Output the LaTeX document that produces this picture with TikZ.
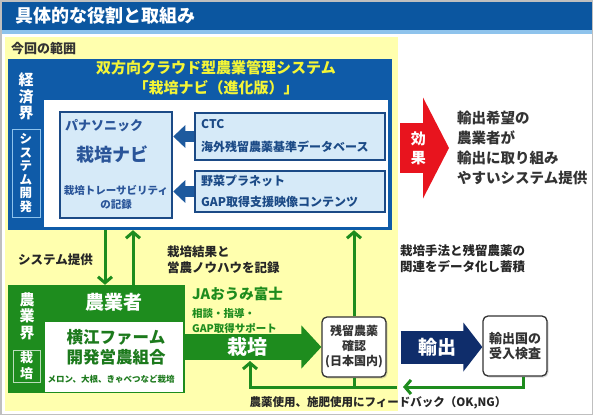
\documentclass[tikz,border=0pt]{standalone}
\usepackage{fontspec}
\setmainfont{Noto Sans CJK JP}
\usetikzlibrary{arrows.meta,positioning,shadows}
\definecolor{naTitle}{HTML}{0B56A0}
\definecolor{naStripe}{HTML}{8EC3EC}
\definecolor{naYellow}{HTML}{FFFFAE}
\definecolor{naBlue}{HTML}{0F5BA8}
\definecolor{naSysYellow}{HTML}{F4F536}
\definecolor{naPale}{HTML}{D6EAF8}
\definecolor{naNavy}{HTML}{1B4A86}
\definecolor{naArrowBlue}{HTML}{1E5A9E}
\definecolor{naCoreText}{HTML}{2A5599}
\definecolor{naGreen}{HTML}{1E8C1E}
\definecolor{naDarkGreen}{HTML}{1D7A1D}
\definecolor{naExportBlue}{HTML}{0F2D6B}
\definecolor{naRed}{HTML}{E8141E}
\definecolor{naText}{HTML}{333333}
\tikzset{
    naSide/.style={text=white, align=center, inner sep=0pt, font=\fontsize{15}{16.5}\selectfont\bfseries},
    naCore/.style={draw=naNavy, line width=2.5pt, fill=naPale, inner sep=0pt},
    naCoreText/.style={text=naCoreText, align=center, font=\fontsize{13}{15}\selectfont\bfseries},
    naPartText/.style={anchor=west, text=naNavy, inner sep=0pt, font=\fontsize{12}{14}\selectfont\bfseries},
    naCheck/.style={draw=naText, line width=1.3pt, fill=white, rounded corners=5pt, inner sep=0pt,
        align=center, text=naText, font=\fontsize{12}{15}\selectfont\bfseries,
        drop shadow={shadow xshift=1.5pt, shadow yshift=-1.5pt, opacity=0.3}},
    naLabel/.style={text=black!85, align=left, inner sep=0pt, font=\fontsize{12.5}{16}\selectfont\bfseries},
    naFeedArrow/.style={-{Triangle[width=22pt,length=12pt]}, line width=11pt, draw=naArrowBlue},
    naLink/.style={-{Straight Barb[length=6pt,width=14pt]}, line width=3pt, draw=naGreen},
    naFbLine/.style={line width=3pt, draw=naGreen},
    naCultArrow/.style={-{Triangle[width=42pt,length=20pt]}, line width=26pt, draw=naGreen},
    naExportArrow/.style={-{Triangle[width=48pt,length=19pt]}, line width=33pt, draw=naExportBlue},
    naEffectArrow/.style={-{Triangle[width=100pt,length=26pt]}, line width=50pt, draw=naRed}
}

\begin{document}
\begin{tikzpicture}[x=1pt,y=-1pt,font=\bfseries]
    \useasboundingbox (0,0) rectangle (593,415);
    % Title bar
    \fill[naTitle] (0,0) rectangle (593,30);
    \fill[naStripe] (0,30) rectangle (593,34);
    \node[anchor=west, text=white, font=\fontsize{18}{20}\selectfont\bfseries] (title) at (12,16) {具体的な役割と取組み};

    % Scope of this project
    \fill[naYellow] (5,37) rectangle (398,411);
    \node[anchor=west, inner sep=0pt, text=naText, font=\fontsize{13}{15}\selectfont\bfseries] (scope) at (11,49) {今回の範囲};

    % Economic sector: system development
    \node[fill=naBlue, minimum width=384, minimum height=171, inner sep=0pt] (econ) at (200,144.5) {};
    \node[fill=white, minimum width=344, minimum height=127, inner sep=0pt] (econIn) at (216,163.5) {};
    \node[text=naSysYellow, align=center, font=\fontsize{15}{20}\selectfont\bfseries] (sysTitle) at (216,78) {双方向クラウド型農業管理システム\\「栽培ナビ（進化版）」};
    \node[naSide] (econLbl) at (26,96.5) {経\\済\\界};
    \node[naSide, draw=naStripe, line width=1pt, minimum width=28, minimum height=88, font=\fontsize{12.5}{13.6}\selectfont\bfseries] (sysDev) at (26,173) {シ\\ス\\テ\\ム\\開\\発};

    \node[naCore, minimum width=112, minimum height=106] (navi) at (116,165) {};
    \node[naCoreText] (naviCo) at (104,126) {パナソニック};
    \node[naCoreText, font=\fontsize{18}{20}\selectfont\bfseries] (naviName) at (112,155) {栽培ナビ};
    \node[naCoreText, font=\fontsize{10.5}{13.5}\selectfont\bfseries] (naviRec) at (116,197.5) {栽培トレーサビリティ\\の記録};

    \node[naCore, minimum width=190, minimum height=47] (ctc) at (290,136.5) {};
    \node[naPartText] (ctcName) at (201,124) {CTC};
    \node[naPartText] (ctcDb) at (201,147) {海外残留農薬基準データベース};
    \node[naCore, minimum width=190, minimum height=41] (yasai) at (290,191.5) {};
    \node[naPartText] (yasaiName) at (201,181) {野菜プラネット};
    \node[naPartText] (yasaiGap) at (201,202) {GAP取得支援映像コンテンツ};

    \draw[naFeedArrow] (ctc.west) -- (navi.east |- ctc.west);
    \draw[naFeedArrow] (yasai.west) -- (navi.east |- yasai.west);

    % Agricultural sector: cultivation
    \node[fill=naGreen, minimum width=177, minimum height=108, inner sep=0pt] (agri) at (96.5,339) {};
    \node[naSide] (agriLbl) at (27,316) {農\\業\\界};
    \node[naSide, draw=white!70!naGreen, line width=1pt, minimum width=27, minimum height=32, font=\fontsize{13}{16}\selectfont\bfseries] (cultBox) at (26.5,366) {栽\\培};
    \node[text=white, font=\fontsize{19}{21}\selectfont\bfseries] (farmer) at (114,302) {農業者};
    \node[fill=white, minimum width=138, minimum height=70, inner sep=0pt] (farm) at (114,357) {};
    \node[text=naDarkGreen, align=center, font=\fontsize{16.5}{20}\selectfont\bfseries] (farmName) at (116,347) {横江ファーム\\開発営農組合};
    \node[text=naDarkGreen, font=\fontsize{8.5}{10}\selectfont\bfseries] (farmCrop) at (111,379) {メロン、大根、きゃべつなど栽培};

    % Links between the two sectors
    \coordinate (sysDown) at (105,0);
    \coordinate (recUp) at (133,0);
    \draw[naLink] (econ.south -| sysDown) -- (agri.north -| sysDown);
    \draw[naLink] (agri.north -| recUp) -- (econ.south -| recUp);
    \node[naLabel, anchor=west] (sysProv) at (18,260) {システム提供};
    \node[naLabel, anchor=west] (recLbl) at (167,260) {栽培結果と\\営農ノウハウを記録};
    \node[naLabel, anchor=west] (dataLbl) at (400,259) {栽培手法と残留農薬の\\関連をデータ化し蓄積};

    % JA support and cultivation flow
    \node[anchor=west, inner sep=0pt, text=naGreen, font=\fontsize{14.5}{18}\selectfont\bfseries] (ja) at (192,294) {JAおうみ富士};
    \node[anchor=west, inner sep=0pt, align=left, text=naGreen, font=\fontsize{10.5}{15}\selectfont\bfseries] (jaSup) at (192,320.5) {相談・指導・\\GAP取得サポート};

    \node[naCheck, minimum width=64, minimum height=60] (check) at (354,347) {残留農薬\\確認\\(日本国内)};
    \node[naCheck, minimum width=64, minimum height=60, font=\fontsize{13}{15}\selectfont\bfseries] (inspect) at (515,346) {輸出国の\\受入検査};

    \draw[naCultArrow] (agri.east |- check.west) -- (check.west)
        node[pos=0.46, text=white, font=\fontsize{20}{22}\selectfont\bfseries] (cultLbl) {栽培};
    \draw[naLink] (check.north) -- (check.north |- econ.south);
    \draw[naExportArrow] ([xshift=14pt]check.east) -- (inspect.west |- check.east)
        node[pos=0.45, text=white, font=\fontsize{19}{21}\selectfont\bfseries] (exportLbl) {輸出};

    % Feedback loop
    \coordinate (fbRight) at (403,387);
    \coordinate (fbLeft) at (397,387);
    \coordinate (fbUp) at (250,361);
    \draw[naLink] ([xshift=8pt]inspect.south) |- (fbRight);
    \draw[naLink] (fbLeft) -| (fbUp);
    \draw[naFbLine] (check.south) -- (check.south |- fbLeft);
    \node[naLabel, font=\fontsize{11.5}{13}\selectfont\bfseries] (fbLbl) at (378,403) {農薬使用、施肥使用にフィードバック（OK,NG）};

    % Effect
    \node[anchor=west, inner sep=0pt, align=left, text=naText, font=\fontsize{14.5}{20}\selectfont\bfseries] (effect) at (457,148) {輸出希望の\\農業者が\\輸出に取り組み\\やすいシステム提供};
    \draw[naEffectArrow] ([xshift=8pt]econ.east |- effect.west) -- ([xshift=-8pt]effect.west)
        node[pos=0.37, align=center, text=white, font=\fontsize{15}{19}\selectfont\bfseries] (effectLbl) {効\\果};

    % Frame
    \draw[black!25, line width=1.5pt] (0.75,0.75) rectangle (592.25,414.25);
\end{tikzpicture}
\end{document}
